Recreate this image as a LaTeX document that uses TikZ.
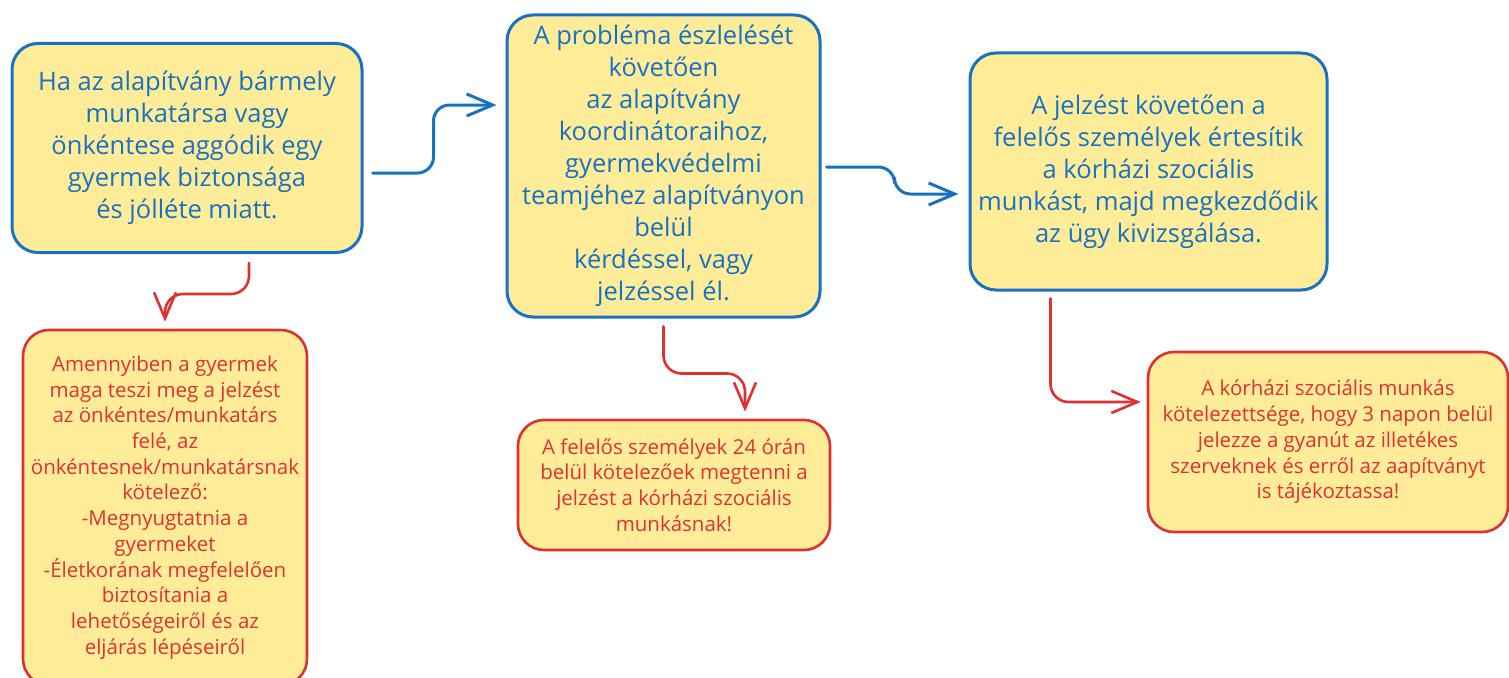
\documentclass[tikz,border=0pt]{standalone}
\usepackage{fontspec}
\setmainfont{Open Sans}
\usetikzlibrary{arrows.meta,positioning,calc}
\definecolor{kek}{HTML}{1971C2}
\definecolor{piros}{HTML}{E03131}
\definecolor{sarga}{HTML}{FFEC99}
\begin{document}
\begin{tikzpicture}[line join=round, line cap=round,>={Straight Barb[length=26pt,width=22pt]},x=1pt,y=1pt]
		\tikzset{doboz/.style={draw=kek,fill=sarga,line width=3pt,rounded corners=26pt,align=center,text=kek,font=\fontsize{25.5}{32}\selectfont},
			pdoboz/.style={doboz,draw=piros,text=piros,line width=2.6pt,font=\fontsize{20.5}{25.7}\selectfont},
			kekny/.style={->,draw=kek,line width=3pt,rounded corners=16pt},
			pirosny/.style={->,draw=piros,line width=2.6pt,rounded corners=18pt}}
		\useasboundingbox (0,0) rectangle (1509,-677);
		\node[doboz,minimum width=350pt,minimum height=209pt] (A) at (187,-148) {Ha az alapítvány bármely\\munkatársa vagy\\önkéntese aggódik egy\\gyermek biztonsága\\és jólléte miatt.};
		\node[doboz,minimum width=313pt,minimum height=302pt] (B) at (663.5,-166) {A probléma észlelését\\követően\\az alapítvány\\koordinátoraihoz,\\gyermekvédelmi\\teamjéhez alapítványon\\belül\\kérdéssel, vagy\\jelzéssel él.};
		\node[doboz,minimum width=357pt,minimum height=237pt] (C) at (1148.5,-171.5) {A jelzést követően a\\felelős személyek értesítik\\a kórházi szociális\\munkást, majd megkezdődik\\az ügy kivizsgálása.};
		%piros dobozok
		\node[pdoboz,minimum width=284pt,minimum height=355pt] (D) at (165,-507.5) {Amennyiben a gyermek\\maga teszi meg a jelzést\\az önkéntes/munkatárs\\felé, az\\önkéntesnek/munkatársnak\\kötelező:\\-Megnyugtatnia a\\gyermeket\\-Életkorának megfelelően\\biztosítania a\\lehetőségeiről és az\\eljárás lépéseiről};
		\node[pdoboz,minimum width=312pt,minimum height=130pt] (E) at (674,-485) {A felelős személyek 24 órán\\belül kötelezőek megtenni a\\jelzést a kórházi szociális\\munkásnak!};
		\node[pdoboz,minimum width=360pt,minimum height=180pt] (F) at (1328,-442) {A kórházi szociális munkás\\kötelezettsége, hogy 3 napon belül\\jelezze a gyanút az illetékes\\szerveknek és erről az aapítványt\\is tájékoztassa!};
		\draw[kekny] ([shift={(9,-25)}]A.east) -- ++(61,0) |- ([shift={(-9,61)}]B.west);
		\draw[kekny] ([shift={(5,-1)}]B.east) -- ++(68,0) |- ([shift={(-10,-22.5)}]C.west);
		\draw[pirosny] ([shift={(62,-9)}]A.south) -- ++(0,-31) -| ([yshift=7]D.north);
		\draw[pirosny] ([yshift=-8]B.south) -- ++(0,-47) -| ([shift={(71,7)}]E.north);
		\draw[pirosny] ([shift={(82,-7)}]C.south west) |- ([shift={(-6,40)}]F.west);
\end{tikzpicture}
\end{document}
